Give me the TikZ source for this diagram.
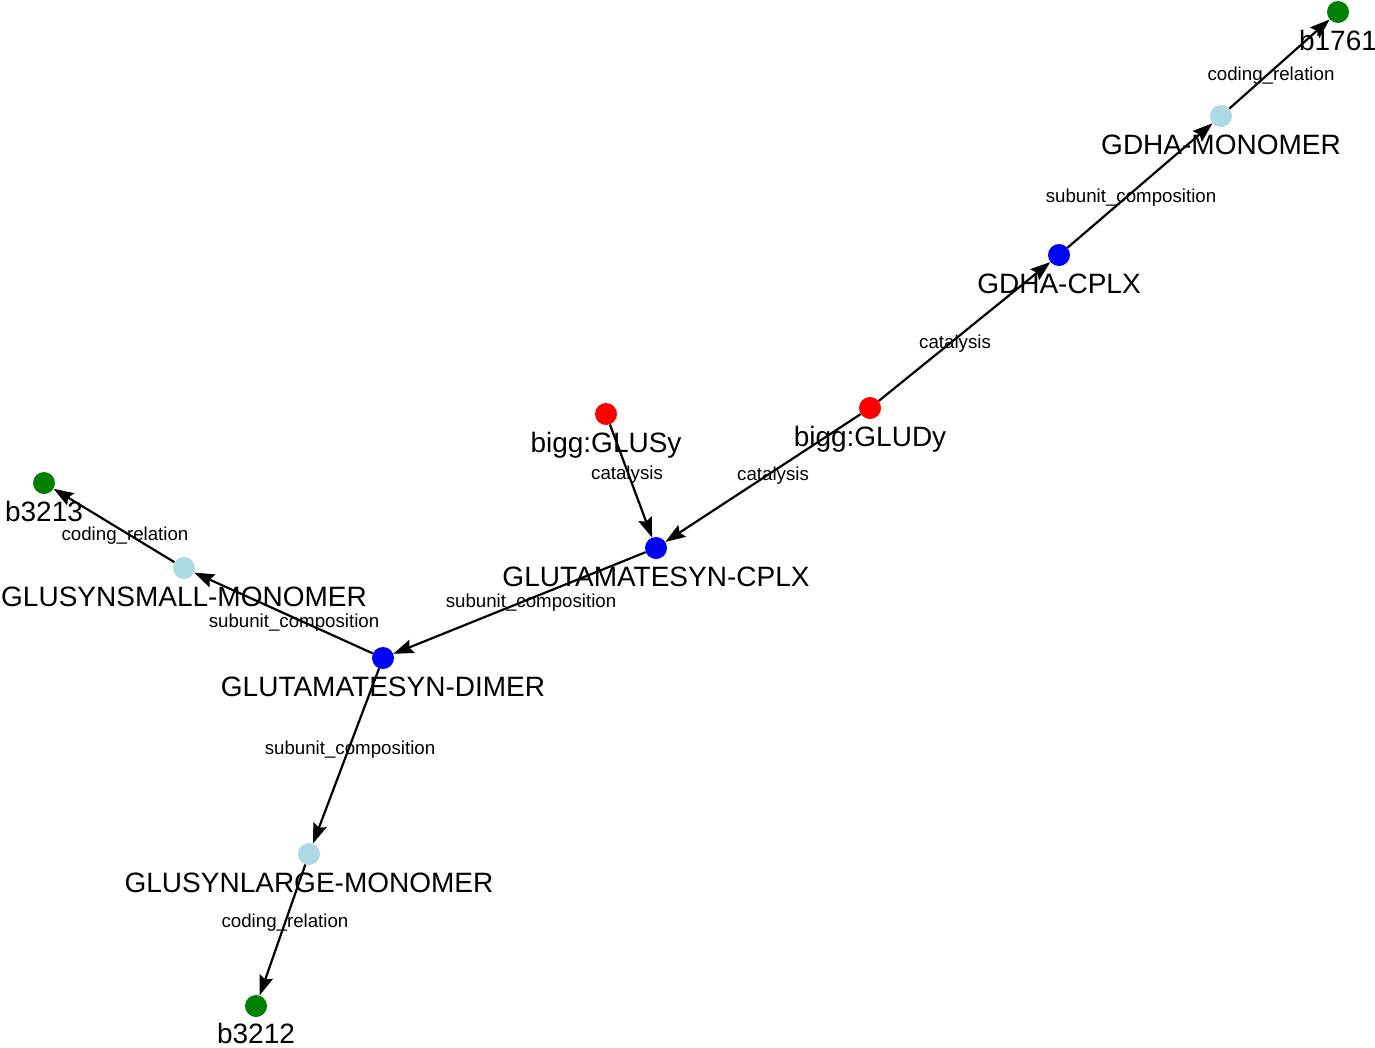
\documentclass[tikz,border=0pt]{standalone}
\usepackage{fontspec}
\setmainfont{Liberation Sans}
\usetikzlibrary{arrows.meta,calc}
\definecolor{cgreen}{RGB}{0,128,0}
\definecolor{cblue}{RGB}{0,0,255}
\definecolor{cred}{RGB}{255,0,0}
\definecolor{clight}{RGB}{173,216,230}
\begin{document}
\begin{tikzpicture}[x=1pt,y=-1pt,
  vert/.style={circle,inner sep=0pt,minimum size=22pt},
  gene/.style={vert,fill=cgreen},
  cplx/.style={vert,fill=cblue},
  rxn/.style={vert,fill=cred},
  mono/.style={vert,fill=clight},
  vtext/.style={anchor=base,font=\fontsize{28}{30}\selectfont,inner sep=0pt},
  elab/.style={font=\fontsize{18.7}{20}\selectfont,inner sep=0pt},
  rel/.style={line width=2.2pt,-{Stealth[length=20pt,width=14pt,inset=3pt]}}]
\useasboundingbox (0,0) rectangle (1375,1047);
% vertices
\node[gene] (b1761) at (1338,12) {};
\node[mono] (gdhamon) at (1221,116) {};
\node[cplx] (gdhacplx) at (1059,255) {};
\node[rxn] (gludy) at (870,408) {};
\node[rxn] (glusy) at (606,414) {};
\node[cplx] (gscplx) at (656,548) {};
\node[cplx] (gsdimer) at (383,658) {};
\node[mono] (small) at (184,568) {};
\node[gene] (b3213) at (44,483) {};
\node[mono] (large) at (309,854) {};
\node[gene] (b3212) at (256,1006) {};
% edges
\draw[rel] (gdhamon) -- node[elab,midway,shift={(-8.5,11.5)}] {coding\_relation} (b1761);
\draw[rel] (gdhacplx) -- node[elab,midway,shift={(-9,12)}] {subunit\_composition} (gdhamon);
\draw[rel] (gludy) -- node[elab,midway,shift={(-9.5,12)}] {catalysis} (gdhacplx);
\draw[rel] (glusy) -- node[elab,midway,shift={(-4,-6.5)}] {catalysis} (gscplx);
\draw[rel] (gludy) -- node[elab,midway,shift={(10,-2.5)}] {catalysis} (gscplx);
\draw[rel] (gscplx) -- node[elab,midway,shift={(11.5,-0.5)}] {subunit\_composition} (gsdimer);
\draw[rel] (gsdimer) -- node[elab,midway,shift={(10.5,9.5)}] {subunit\_composition} (small);
\draw[rel] (small) -- node[elab,midway,shift={(11,10)}] {coding\_relation} (b3213);
\draw[rel] (gsdimer) -- node[elab,midway,shift={(4,-6.5)}] {subunit\_composition} (large);
\draw[rel] (large) -- node[elab,midway,shift={(2.5,-7.5)}] {coding\_relation} (b3212);
% vertex texts
\node[vtext] (tb1761) at ($(b1761)+(0,38)$) {b1761};
\node[vtext] (tgdhamon) at ($(gdhamon)+(0,38)$) {GDHA-MONOMER};
\node[vtext] (tgdhacplx) at ($(gdhacplx)+(0,38)$) {GDHA-CPLX};
\node[vtext] (tgludy) at ($(gludy)+(0,38)$) {bigg:GLUDy};
\node[vtext] (tglusy) at ($(glusy)+(0,38)$) {bigg:GLUSy};
\node[vtext] (tgscplx) at ($(gscplx)+(0,38)$) {GLUTAMATESYN-CPLX};
\node[vtext] (tgsdimer) at ($(gsdimer)+(0,38)$) {GLUTAMATESYN-DIMER};
\node[vtext] (tsmall) at ($(small)+(0,38)$) {GLUSYNSMALL-MONOMER};
\node[vtext] (tb3213) at ($(b3213)+(0,38)$) {b3213};
\node[vtext] (tlarge) at ($(large)+(0,38)$) {GLUSYNLARGE-MONOMER};
\node[vtext] (tb3212) at ($(b3212)+(0,37)$) {b3212};
\end{tikzpicture}
\end{document}
